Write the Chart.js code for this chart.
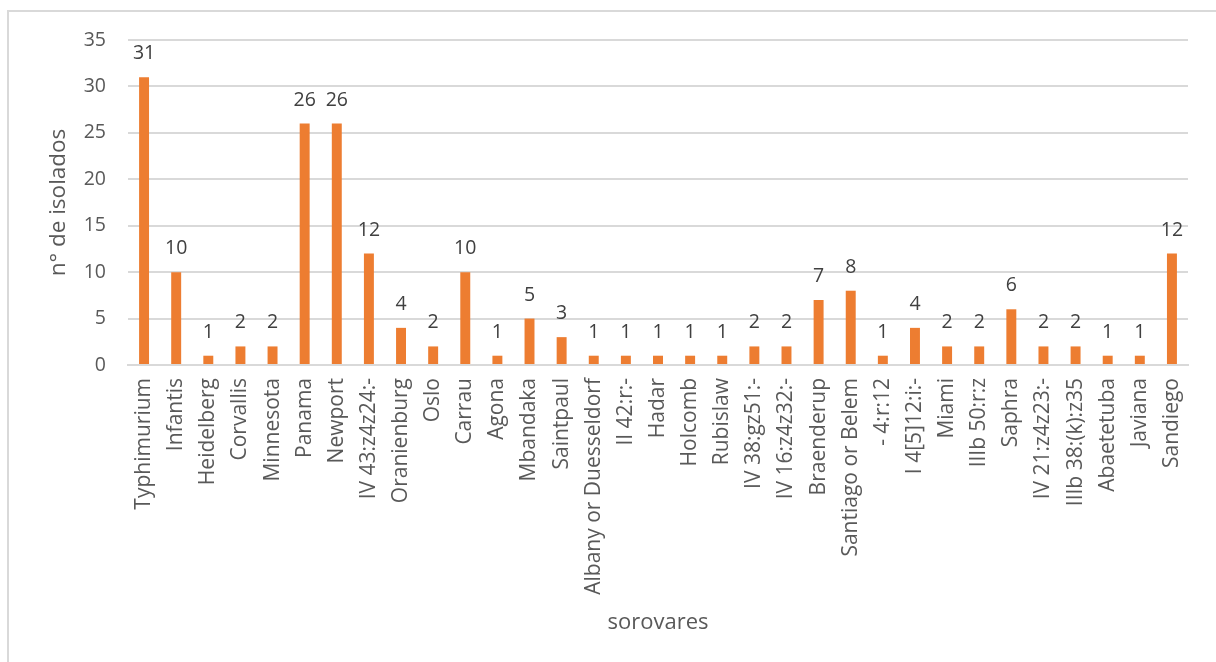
<!DOCTYPE html>
<html>
<head>
<meta charset="utf-8">
<script src="https://cdn.jsdelivr.net/npm/chart.js@4"></script>
<style>
  body { margin: 0; background: #fff; }
  #frame { position: absolute; left: 7px; top: 10px; width: 1220px; height: 660px;
           border-left: 2px solid #d9d9d9; border-top: 2px solid #d9d9d9; }
  #box { position: absolute; left: 0; top: 0; width: 1216px; height: 662px; }
</style>
</head>
<body>
<div id="frame"></div>
<div id="box"><canvas id="myChart"></canvas></div>
<script>
// sorovares
const sorovares = ['Typhimurium', 'Infantis', 'Heidelberg', 'Corvallis', 'Minnesota', 'Panama', 'Newport',
  'IV 43:z4z24:-', 'Oranienburg', 'Oslo', 'Carrau', 'Agona', 'Mbandaka', 'Saintpaul',
  'Albany or Duesseldorf', 'II 42:r:-', 'Hadar', 'Holcomb', 'Rubislaw', 'IV 38:gz51:-',
  'IV 16:z4z32:-', 'Braenderup', 'Santiago or Belem', '- 4:r:12', 'I 4[5]12:i:-', 'Miami',
  'IIIb 50:r:z', 'Saphra', 'IV 21:z4z23:-', 'IIIb 38:(k):z35', 'Abaetetuba', 'Javiana', 'Sandiego']
// n° de isolados
const isolados = [31, 10, 1, 2, 2, 26, 26, 12, 4, 2, 10, 1, 5, 3, 1, 1, 1, 1, 1, 2, 2, 7, 8, 1, 4, 2, 2, 6, 2, 2, 1, 1, 12]
const yMax = 35
const yStep = 5

const fontFam = "'Open Sans', sans-serif"

// etiquetas de valor em cima das barras
const valueLabels = {
  id: 'valueLabels',
  afterDatasetsDraw(chart) {
    const ctx = chart.ctx
    const meta = chart.getDatasetMeta(0)
    ctx.save()
    ctx.font = '19.5px ' + fontFam
    ctx.fillStyle = '#404040'
    ctx.textAlign = 'center'
    ctx.textBaseline = 'alphabetic'
    meta.data.forEach((bar, i) => {
      ctx.fillText(isolados[i], bar.x, bar.y - 18)
    })
    ctx.restore()
  }
}

const ctx = document.getElementById('myChart')
const myChart = new Chart(ctx, {
  type: 'bar',
  data: {
    labels: sorovares,
    datasets: [{
      data: isolados,
      backgroundColor: '#ED7D31',
      barPercentage: 0.31,
      categoryPercentage: 1
    }]
  },
  options: {
    responsive: true,
    maintainAspectRatio: false,
    animation: false,
    layout: { padding: { top: 40, right: 28, left: 0, bottom: 0 } },
    plugins: { legend: { display: false }, tooltip: { enabled: false } },
    scales: {
      x: {
        grid: { display: false, drawTicks: false },
        border: { color: '#d9d9d9', width: 2 },
        ticks: { color: '#595959', font: { family: fontFam, size: 21 }, minRotation: 90, maxRotation: 90, padding: 13, autoSkip: false },
        title: { display: true, text: 'sorovares', color: '#595959', font: { family: fontFam, size: 22 }, padding: { top: 4, bottom: 26 } },
        afterFit(scale) { scale.height = 297 }
      },
      y: {
        min: 0,
        max: yMax,
        grid: { color: '#d9d9d9', lineWidth: 2, drawTicks: false },
        border: { display: false },
        ticks: { stepSize: yStep, color: '#595959', font: { family: fontFam, size: 19.5 }, padding: 22 },
        title: { display: true, text: 'n° de isolados', color: '#595959', font: { family: fontFam, size: 22.5 }, padding: { top: 45, bottom: 0 } },
        afterFit(scale) { scale.width = 128 }
      }
    }
  },
  plugins: [valueLabels]
})
</script>
</body>
</html>
